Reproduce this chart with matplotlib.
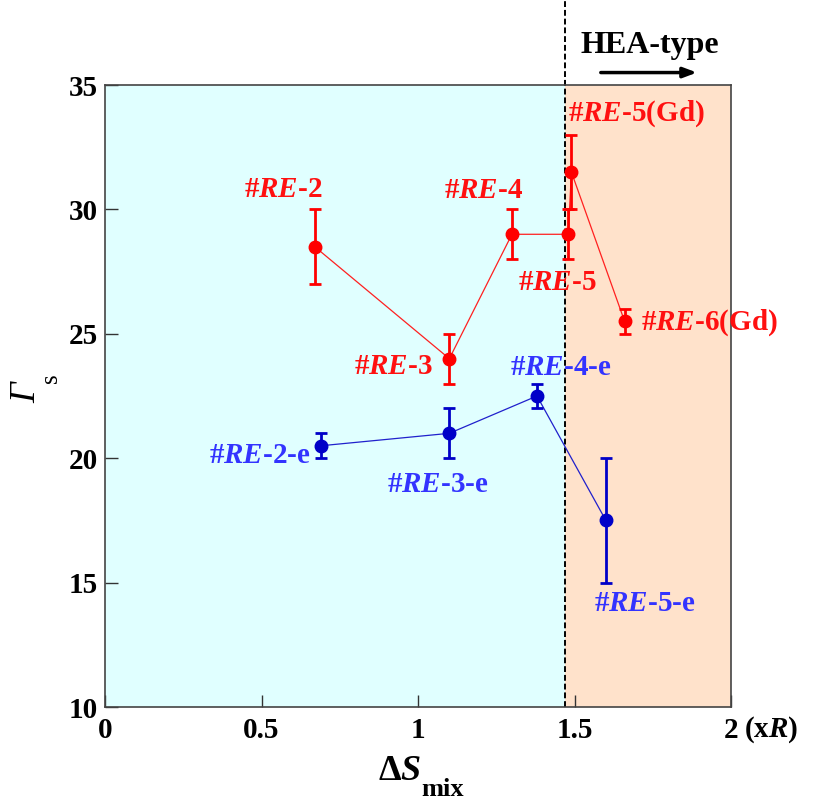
import matplotlib
matplotlib.use('Agg')
import matplotlib.pyplot as plt

plt.rcParams['font.family'] = 'Liberation Serif'
plt.rcParams['mathtext.fontset'] = 'custom'
plt.rcParams['mathtext.rm'] = 'Liberation Serif'
plt.rcParams['mathtext.it'] = 'Liberation Serif:italic'
plt.rcParams['mathtext.bf'] = 'Liberation Serif:bold'
plt.rcParams['mathtext.bfit'] = 'Liberation Serif:italic:bold'

# as-cast alloys (red) and the "-e" series (blue)
red_x = [0.67, 1.10, 1.30, 1.48, 1.49, 1.66]
red_y = [28.5, 24.0, 29.0, 29.0, 31.5, 25.5]
red_err = [1.5, 1.0, 1.0, 1.0, 1.5, 0.5]
red_labels = ['2', '3', '4', '5', '5(Gd)', '6(Gd)']

blue_x = [0.69, 1.10, 1.38, 1.60]
blue_y = [20.5, 21.0, 22.5, 17.5]
blue_err = [0.5, 1.0, 0.5, 2.5]
blue_labels = ['2-e', '3-e', '4-e', '5-e']

hea_boundary = 1.47

# label anchor positions (x, y, ha)
red_label_pos = [(0.57, 30.8, 'center'), (0.92, 23.7, 'center'), (1.21, 30.75, 'center'),
                 (1.445, 27.05, 'center'), (1.478, 33.85, 'left'), (1.712, 25.45, 'left')]
blue_label_pos = [(0.495, 20.1, 'center'), (1.062, 18.95, 'center'), (1.455, 23.65, 'center'),
                  (1.725, 14.15, 'center')]

fig = plt.figure(figsize=(8.13, 8.08), dpi=100)
ax = fig.add_axes([0.1292, 0.125, 0.770, 0.7698])

ax.axvspan(0, hea_boundary, color='#E0FFFF', zorder=0, lw=0)
ax.axvspan(hea_boundary, 2, color='#FFE2CB', zorder=0, lw=0)
ax.axvline(hea_boundary, ymin=0, ymax=1.137, color='black', ls=(0, (3, 1.5)), lw=1.4,
           clip_on=False, zorder=1)

ax.plot(red_x, red_y, color='#FF2020', lw=0.9, zorder=2)
ax.errorbar(red_x, red_y, yerr=red_err, fmt='o', color='#FF0000', ms=9, elinewidth=2,
            capsize=4.5, capthick=2, zorder=3)
ax.plot(blue_x, blue_y, color='#2020CC', lw=0.9, zorder=2)
ax.errorbar(blue_x, blue_y, yerr=blue_err, fmt='o', color='#0000C8', ms=9, elinewidth=2,
            capsize=4.5, capthick=2, zorder=3)

for lab, (lx, ly, ha) in zip(red_labels, red_label_pos):
    ax.text(lx, ly, r'#$\mathbfit{RE}$-' + lab, color='#FF1010', fontsize=21,
            fontweight='bold', ha=ha, va='center', zorder=4)
for lab, (lx, ly, ha) in zip(blue_labels, blue_label_pos):
    ax.text(lx, ly, r'#$\mathbfit{RE}$-' + lab, color='#3333FF', fontsize=21,
            fontweight='bold', ha=ha, va='center', zorder=4)

# HEA-type marker above the plot
ax.text(1.74, 36.6, 'HEA-type', fontsize=23, fontweight='bold', ha='center', va='center',
        clip_on=False)
ax.annotate('', xy=(1.9, 35.5), xytext=(1.575, 35.5), annotation_clip=False,
            arrowprops=dict(arrowstyle='-|>,head_length=0.8,head_width=0.3', color='black', lw=2.5))

ax.set_xlim(0, 2)
ax.set_ylim(10, 35)
ax.set_xticks([0, 0.5, 1, 1.5, 2])
ax.set_xticklabels(['0', '0.5', '1', '1.5', '2'])
ax.set_yticks([10, 15, 20, 25, 30, 35])
ax.tick_params(direction='in', length=9, width=1, color='#333333', labelsize=21)
ax.tick_params(axis='x', pad=7)
ax.tick_params(axis='y', pad=5)
for t in ax.get_xticklabels() + ax.get_yticklabels():
    t.set_fontweight('bold')
for sp in ax.spines.values():
    sp.set_color('#444444')
    sp.set_linewidth(1.2)

ax.text(2.128, 9.08, r'(x$\mathbfit{R}$)', fontsize=21, fontweight='bold',
        ha='center', va='center', clip_on=False)

# x axis symbol: Delta S with a low "mix" subscript
fig.text(400 / 813, 1 - 771 / 808, r'$\mathbf{\Delta}\mathbfit{S}$', fontsize=26,
         ha='center', va='center')
fig.text(421 / 813, 1 - 790 / 808, 'mix', fontsize=19, fontweight='bold',
         ha='left', va='center')

# y axis symbol Gamma_s, written rotated like a y label
fig.text(27 / 813, 1 - 393 / 808, 'Γ', fontsize=26, fontstyle='italic', rotation=90,
         ha='center', va='center')
fig.text(51 / 813, 1 - 378 / 808, 's', fontsize=18, rotation=90, ha='center', va='center')

fig.savefig('out.png', dpi=100)
